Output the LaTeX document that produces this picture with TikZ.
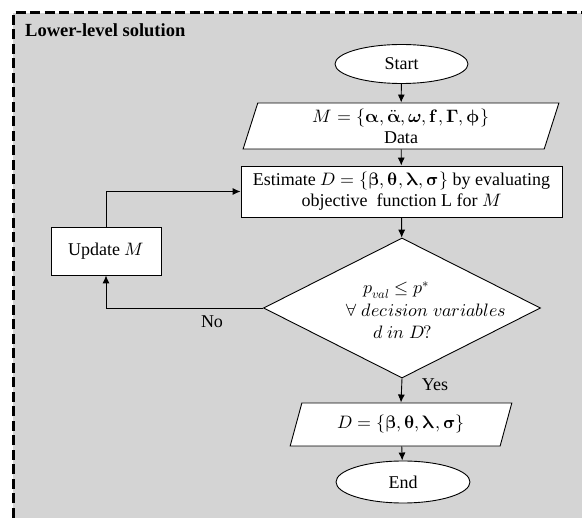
\documentclass[tikz,border=0pt]{standalone}
\usepackage{unicode-math}
\setmainfont{Liberation Serif}
\usetikzlibrary{arrows.meta,shapes.geometric,calc}
\definecolor{panel}{RGB}{212,212,212}
\begin{document}
\begin{tikzpicture}[x=1pt,y=-1pt,
  every node/.style={font=\fontsize{18}{21}\selectfont, inner sep=0pt},
  line/.style={line width=0.9pt},
  flow/.style={line, -{Latex[length=8pt,width=7pt]}},
  term/.style={ellipse, draw, line, fill=white, minimum width=133pt, minimum height=39pt},
  proc/.style={rectangle, draw, line, fill=white, align=center},
  decision/.style={diamond, draw, line, fill=white, minimum width=277pt, minimum height=140pt},
  io/.style={trapezium, trapezium stretches=true, draw, line, fill=white, align=center},
  frame/.style={line width=3pt, dash pattern=on 10pt off 4.5pt},
]
\useasboundingbox (0,0) rectangle (582,518);
\fill[white] (0,0) rectangle (582,518);
\fill[panel] (13,13) rectangle (582,518);
\draw[frame] (13,518) -- (13,13) -- (582,13);

\node[anchor=base west, font=\fontsize{18.5}{21}\selectfont\bfseries] (title) at (25,37) {Lower-level solution};

\node[term] (start) at (401.5,64) {Start};
\node[io, trapezium left angle=75.4, trapezium right angle=104.6, minimum width=316pt, minimum height=46pt] (data) at (401,126)
  {$M=\{\symbfup{\alpha},\ddot{\symbfup{\alpha}},\symbfit{\omega},\symbfup{f},\symbfup{\Gamma},\symbfup{\phi}\}$\\Data};
\node[proc, minimum width=321pt, minimum height=51pt] (est) at (401.5,191.5)
  {Estimate $D=\{\symbfup{\beta},\symbfup{\theta},\symbfup{\lambda},\symbfup{\sigma}\}$ by evaluating\\objective\ \ function L for $M$};
\node[decision] (dia) at (402,308) {};
\node[anchor=west] (c1) at (363,290) {$p_{val}\leq p^{*}$};
\node[anchor=west] (c2) at (345,310) {$\forall\ decision\ variables$};
\node[anchor=west] (c3) at (373,332) {$d\ in\ D?$};
\node[proc, minimum width=110pt, minimum height=48pt] (upd) at (106,251) {Update $M$};
\node[io, trapezium left angle=67.3, trapezium right angle=112.7, minimum width=222pt, minimum height=43pt] (dout) at (401,424.5)
  {$D=\{\symbfup{\beta},\symbfup{\theta},\symbfup{\lambda},\symbfup{\sigma}\}$};
\node[term, minimum width=134pt, minimum height=42pt] (endn) at (403,482) {End};

\draw[flow] (start) -- (data);
\draw[flow] (data) -- (est);
\draw[flow] (est) -- (dia);
\draw[flow] (dia.south) -- (dout.north);
\draw[flow] (dout) -- (endn);
\draw[flow] (dia.west) -| (upd.south);
\draw[flow] (upd.north) |- (est.west);
\node (no) at (212,322) {No};
\node (yes) at (435,385) {Yes};
\end{tikzpicture}
\end{document}
